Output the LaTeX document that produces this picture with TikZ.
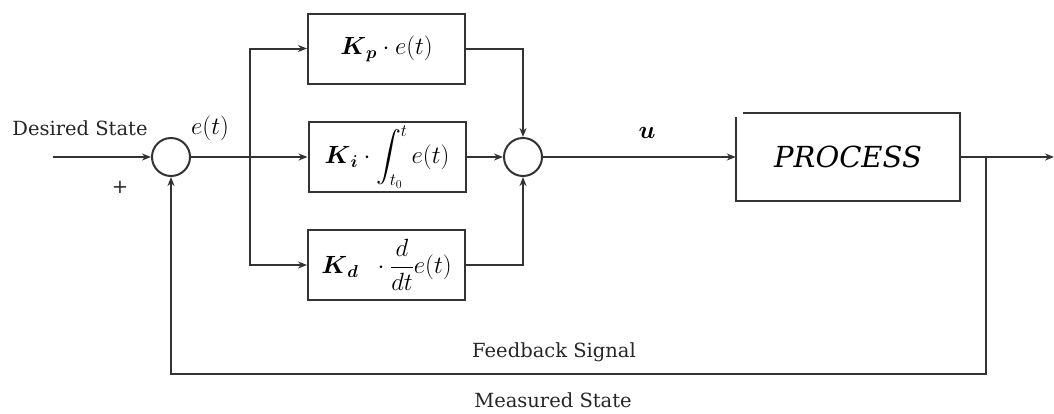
\documentclass[tikz,border=0pt]{standalone}
\usepackage{fontspec}
\setmainfont{DejaVu Serif}
\usepackage{amsmath,bm}
\usetikzlibrary{arrows.meta}
\newcommand{\bigK}{\text{\fontsize{32}{32}\selectfont$\bm{K}$}}
\begin{document}
\begin{tikzpicture}[x=1pt,y=-1pt,
  line/.style={line width=2pt, draw=black!80},
  arr/.style={line, -{Stealth[length=9pt,width=7pt]}},
  blk/.style={line, minimum width=157pt, minimum height=70pt, inner sep=0pt,
    font=\fontsize{25}{28}\selectfont},
  sumnode/.style={line, circle, minimum size=38pt, inner sep=0pt},
  lbl/.style={font=\fontsize{19.5}{22}\selectfont, inner sep=0pt, text=black!85}]
\useasboundingbox (0,0) rectangle (1054,413);
% summing junctions
\node[sumnode] (s1) at (171,157) {};
\node[sumnode] (s2) at (523,157) {};
% PID blocks
\node[blk] (kp) at (386.5,48.5) {$\bigK_{\bm{p}}\cdot e(t)$};
\node[blk] (ki) at (387,157) {$\bigK_{\bm{i}}\cdot\displaystyle\int_{t_0}^{t} e(t)$};
\node[blk] (kd) at (386.5,265) {$\bigK_{\bm{d}}\;\;\cdot\dfrac{d}{dt}e(t)$};
% process
\node[inner sep=0pt, minimum width=224pt, minimum height=88pt,
  font=\fontsize{29}{32}\selectfont\itshape] (pr) at (848,157) {PROCESS};
\draw[line] ([xshift=7pt]pr.north west) -- (pr.north east) -- (pr.south east)
  -- (pr.south west) -- ([yshift=-4pt]pr.north west);
% coordinates
\coordinate (in) at (53,157);
\coordinate (j1) at (250,157);
\coordinate (j2) at (986,157);
\coordinate (out) at (1054,157);
\coordinate (fb) at (986,374);
% connectors
\draw[arr] (in) -- (s1);
\draw[line] (s1) -- (j1);
\draw[arr] (j1) -- (ki);
\draw[arr] (j1) |- (kp.west);
\draw[arr] (j1) |- (kd.west);
\draw[arr] (kp.east) -| (s2);
\draw[arr] (ki) -- (s2);
\draw[arr] (kd.east) -| (s2);
\draw[arr] (s2) -- (pr.west);
\draw[arr] (pr.east) -- (out);
\draw[arr] (j2) -- (fb) -| (s1);
% labels
\node[lbl] (ds) at (80,128) {Desired State};
\node[lbl] (plus) at (120,187) {+};
\node[inner sep=0pt, font=\fontsize{24}{26}\selectfont] (et) at (210,128) {$e(t)$};
\node[inner sep=0pt, font=\fontsize{24}{26}\selectfont] (ul) at (647,133) {$\bm{u}$};
\node[lbl] (fs) at (554,352) {Feedback Signal};
\node[lbl] (ms) at (553,400) {Measured State};
\end{tikzpicture}
\end{document}
